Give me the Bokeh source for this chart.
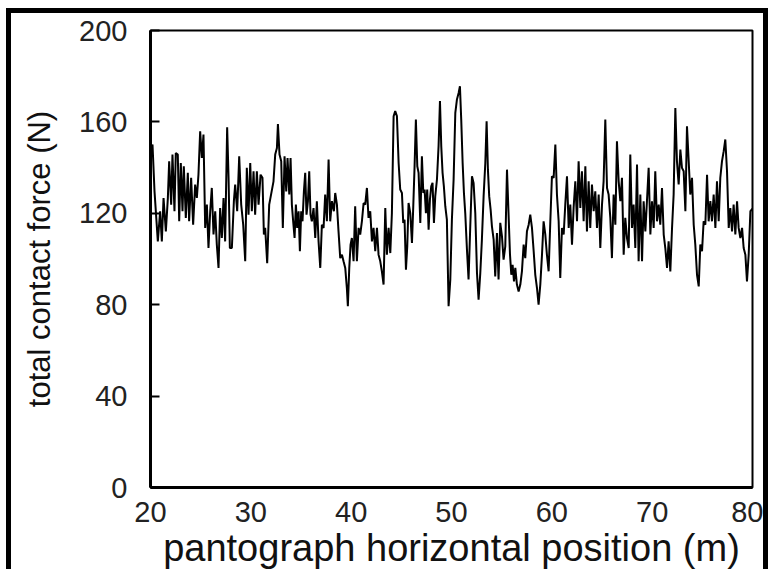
from bokeh.plotting import figure
from bokeh.models import Range1d, FixedTicker
from bokeh.embed import file_html
from bokeh.resources import INLINE

position_m = [
    20.00, 20.20, 20.40, 20.73, 20.96, 21.13, 21.30, 21.53, 21.73, 21.86, 22.06, 22.19, 22.39, 22.52, 22.72,
    22.86, 23.02, 23.19, 23.32, 23.52, 23.72, 23.85, 24.05, 24.25, 24.45, 24.62, 24.78, 24.95, 25.12, 25.28,
    25.45, 25.62, 25.78, 25.95, 26.11, 26.28, 26.45, 26.61, 26.78, 26.94, 27.11, 27.28, 27.44, 27.64, 27.78,
    27.91, 28.11, 28.31, 28.44, 28.64, 28.84, 29.04, 29.24, 29.44, 29.60, 29.77, 29.94, 30.10, 30.27, 30.43,
    30.60, 30.77, 30.97, 31.16, 31.30, 31.43, 31.63, 31.83,
    32.26, 32.43, 32.60, 32.70, 32.86, 33.03, 33.19, 33.36, 33.53, 33.66, 33.83, 33.96, 34.09, 34.22, 34.36,
    34.49, 34.62, 34.76, 34.89, 35.02, 35.15, 35.29, 35.42, 35.55, 35.69, 35.82, 35.95, 36.08, 36.25, 36.42,
    36.58, 36.75, 36.92, 37.08, 37.25, 37.41, 37.58, 37.75, 37.91, 38.08, 38.28, 38.41, 38.58, 38.74, 38.91,
    39.08, 39.24, 39.41, 39.57, 39.67, 39.81, 39.94, 40.07, 40.24, 40.40, 40.57, 40.74, 40.90, 41.07, 41.24,
    41.40, 41.57, 41.73, 41.90, 42.07, 42.23, 42.40, 42.57, 42.73, 42.90, 43.06, 43.23, 43.40, 43.56, 43.73,
    43.90, 44.06, 44.23, 44.39, 44.56, 44.73, 44.89, 45.06, 45.19, 45.32, 45.46, 45.59, 45.72, 45.89, 46.06,
    46.19, 46.32, 46.45, 46.59, 46.72, 46.89, 47.05, 47.19, 47.32, 47.45, 47.58, 47.72, 47.85, 47.98, 48.11,
    48.25, 48.38, 48.55, 48.71, 48.85, 48.98, 49.11, 49.24, 49.38, 49.54, 49.71, 49.88, 50.04, 50.21, 50.38,
    50.54, 50.71, 50.84, 50.97, 51.11, 51.24, 51.37, 51.54, 51.70, 51.87, 52.04, 52.20, 52.37, 52.54, 52.70,
    52.87, 53.03, 53.20, 53.37, 53.50, 53.63, 53.76, 53.90, 54.03, 54.20, 54.36, 54.53, 54.69, 54.86, 55.03,
    55.19, 55.36, 55.53,
    55.83, 55.96, 56.09, 56.23, 56.36, 56.52, 56.69, 56.86, 57.02, 57.19, 57.35, 57.52, 57.69, 57.85, 58.02,
    58.19, 58.35, 58.52, 58.68, 58.85, 59.02, 59.18, 59.35, 59.51, 59.68, 59.85, 60.01, 60.18, 60.35, 60.51,
    60.68, 60.84, 61.01, 61.18, 61.34, 61.51, 61.68, 61.84, 62.01, 62.17, 62.34, 62.51, 62.67, 62.84, 63.00,
    63.17, 63.34, 63.50, 63.67, 63.83, 64.00, 64.17, 64.33, 64.50, 64.67, 64.83, 65.00, 65.16, 65.33, 65.50,
    65.66, 65.83, 65.99, 66.16, 66.33, 66.49, 66.66, 66.83, 66.99, 67.16, 67.32, 67.49,
    67.66, 67.82, 67.99, 68.15, 68.32, 68.49, 68.65, 68.82, 68.99, 69.15, 69.32, 69.48, 69.65, 69.82, 69.98,
    70.15, 70.31, 70.48, 70.65, 70.81, 70.98, 71.15, 71.31, 71.48, 71.64, 71.81, 71.98, 72.14, 72.31, 72.47,
    72.64, 72.81, 72.97, 73.14, 73.31, 73.47, 73.64, 73.80, 73.97, 74.14, 74.30, 74.47, 74.64, 74.80, 74.97,
    75.13, 75.30, 75.47, 75.63, 75.80, 75.96, 76.13, 76.30, 76.46, 76.63, 76.79, 76.96, 77.13, 77.29, 77.46,
    77.63, 77.79, 77.96, 78.12, 78.29, 78.46, 78.62, 78.79, 78.96, 79.12, 79.29, 79.45, 79.62, 79.79, 80.00,
]

contact_force_N = [
    148.0, 150.1, 129.6, 107.7, 120.9, 107.7, 126.7, 112.1, 126.7, 142.8, 123.8, 145.7, 120.9, 146.4, 145.7,
    116.5, 142.0, 120.9, 140.6, 118.0, 137.7, 116.5, 135.5, 115.0, 132.6, 126.7, 136.9, 155.9, 144.2, 154.5,
    113.6, 123.8, 104.8, 120.9, 131.1, 110.7, 120.9, 106.3, 96.1, 122.3, 109.2, 126.7, 107.7, 157.7, 135.5,
    104.8, 104.8, 125.3, 132.6, 120.9, 145.0, 123.8, 115.0, 99.0, 139.9, 119.4, 142.0, 120.9, 138.4, 119.4,
    138.4, 123.8, 136.9, 135.5, 110.7, 113.6, 98.2, 123.8,
    134.0, 145.7, 148.6, 159.1, 145.7, 142.8, 113.6, 145.0, 129.6, 144.2, 128.2, 144.2, 123.8, 116.5, 109.2,
    123.8, 113.6, 120.9, 103.4, 120.9, 116.5, 129.6, 137.7, 119.4, 125.3, 138.4, 119.4, 116.5, 122.3, 109.2,
    125.3, 107.7, 96.1, 115.0, 113.6, 128.2, 116.5, 143.5, 116.5, 125.3, 120.9, 128.9, 123.8, 112.1, 100.4,
    101.9, 99.0, 96.1, 87.3, 79.3, 96.1, 106.3, 109.2, 99.0, 123.1, 99.0, 113.6, 110.7, 116.5, 124.5,
    123.8, 131.1, 118.0, 120.9, 107.7, 113.6, 103.4, 113.6, 101.9, 99.0, 94.6, 88.8, 122.3, 101.9, 113.6,
    102.6, 120.1, 162.5, 164.7, 162.5, 142.0, 130.4, 128.9, 115.8, 117.2, 95.3, 105.5, 124.5, 120.1, 107.0,
    123.1, 140.6, 161.0, 140.6, 137.7, 115.8, 145.0, 128.9, 130.4, 120.1, 130.4, 112.8, 126.0, 131.8, 133.3,
    115.8, 127.4, 134.8, 149.3, 169.1, 149.3, 137.7, 131.8, 123.1, 117.2, 79.3, 91.0, 117.2, 134.8, 164.0,
    169.8, 172.7, 175.6, 161.0, 142.0, 128.9, 120.1, 104.1, 91.0, 114.3, 136.2, 133.3, 120.1, 93.9, 82.2,
    93.9, 108.5, 127.4, 142.0, 160.3, 139.1, 127.4, 121.6, 114.3, 108.5, 92.4, 111.4, 91.0, 115.8, 109.9,
    99.7, 105.5, 139.1,
    101.9, 93.1, 97.5, 90.2, 96.1, 88.8, 85.8, 88.8, 94.6, 106.3, 100.4, 112.1, 115.0, 119.4, 113.6,
    103.4, 93.1, 87.3, 80.0, 88.8, 101.9, 116.5, 110.7, 101.9, 94.6, 116.5, 136.2, 135.5, 150.1, 128.2,
    116.5, 91.7, 113.6, 110.7, 123.8, 136.2, 113.6, 123.8, 106.3, 122.3, 134.0, 116.5, 142.8, 122.3, 138.4,
    116.5, 140.6, 112.1, 134.0, 113.6, 132.6, 120.9, 129.6, 113.6, 128.2, 104.8, 123.8, 134.0, 161.0, 131.1,
    128.2, 118.0, 100.4, 128.2, 115.0, 151.5, 134.0, 125.3, 135.5, 101.9, 118.0, 109.2,
    104.8, 145.7, 113.6, 123.8, 104.8, 141.3, 99.0, 128.2, 99.0, 125.3, 112.1, 125.3, 139.9, 110.7, 125.3,
    113.6, 138.4, 116.5, 123.8, 115.0, 131.1, 110.7, 104.8, 96.1, 107.7, 94.6, 113.6, 128.2, 166.1, 142.8,
    132.6, 147.9, 139.9, 138.4, 120.9, 158.1, 142.8, 128.2, 135.5, 115.0, 106.3, 93.1, 88.0, 106.3, 103.4,
    116.5, 115.0, 136.9, 116.5, 125.3, 116.5, 128.2, 113.6, 134.0, 116.5, 135.5, 142.8, 147.2, 152.3, 138.4,
    113.6, 122.3, 112.1, 123.8, 110.7, 125.3, 113.6, 109.2, 113.6, 104.8, 101.9, 90.2, 101.9, 120.9, 122.0,
]

x_ticks = [20, 30, 40, 50, 60, 70, 80]
y_ticks = [0, 40, 80, 120, 160, 200]

W, H = 762, 561
p = figure(width=W, height=H, output_backend="svg", toolbar_location=None,
           x_range=Range1d(20, 80), y_range=Range1d(0, 200),
           min_border_left=139, min_border_right=21, min_border_top=17, min_border_bottom=87)
p.styles = {"border-top": "5px solid black", "border-left": "5px solid black",
            "border-right": "5px solid black", "margin-left": "6px", "margin-top": "8px"}
p.background_fill_color = "white"
p.border_fill_color = "white"
p.grid.visible = False
p.outline_line_color = "black"
p.outline_line_width = 2

p.line(position_m, contact_force_N, line_color="black", line_width=2)

font = "Liberation Sans"
p.xaxis.ticker = FixedTicker(ticks=x_ticks)
p.yaxis.ticker = FixedTicker(ticks=y_ticks)
for ax in (p.xaxis, p.yaxis):
    ax.axis_line_color = "black"
    ax.axis_line_width = 3
    ax.major_label_text_font = font
    ax.major_label_text_font_size = "29px"
    ax.major_label_text_color = "#222222"
    ax.minor_tick_line_color = None
    ax.axis_label_text_font = font
    ax.axis_label_text_font_style = "normal"
    ax.axis_label_text_color = "#111111"

p.xaxis.major_tick_line_color = None
p.xaxis.major_label_standoff = 8
p.xaxis.axis_label = "pantograph horizontal position (m)"
p.xaxis.axis_label_text_font_size = "38px"
p.xaxis.axis_label_standoff = 2

p.yaxis.major_tick_in = 9
p.yaxis.major_tick_out = 0
p.yaxis.major_tick_line_width = 2
p.yaxis.major_label_standoff = 23
p.yaxis.axis_label = "total contact force (N)"
p.yaxis.axis_label_text_font_size = "31px"
p.yaxis.axis_label_standoff = 19

open("out.html", "w").write(file_html(p, INLINE))
